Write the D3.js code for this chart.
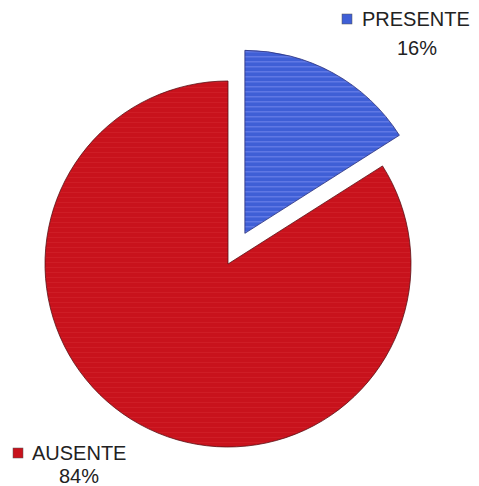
<!DOCTYPE html>
<html>
<head>
<meta charset="utf-8">
<script src="https://cdn.jsdelivr.net/npm/d3@7"></script>
<style>
  body { margin: 0; background: #fff; }
  text { font-family: "Liberation Sans", Arial, sans-serif; fill: #222; }
</style>
</head>
<body>
<div id="chart"></div>
<script>
// Data
var labels = ["PRESENTE", "AUSENTE"];
var values = [16, 84];
var colors = ["#3f5fd6", "#c8121c"];

var svgWidth = 479;
var svgHeight = 486;
var cx = 228, cy = 264;
var radius = 183;
var explode = 35;

var svg = d3.select("#chart")
    .append("svg")
    .attr("width", svgWidth)
    .attr("height", svgHeight);

// stripe patterns (the scan shows fine horizontal banding)
var defs = svg.append("defs");
var stripeColors = ["#7c8ff0", "#d8303a"];
colors.forEach(function (c, i) {
    var p = defs.append("pattern")
        .attr("id", "stripe" + i)
        .attr("patternUnits", "userSpaceOnUse")
        .attr("width", 6)
        .attr("height", 5);
    p.append("rect").attr("width", 6).attr("height", 5).attr("fill", c);
    p.append("rect").attr("y", 3).attr("width", 6).attr("height", 1)
        .attr("fill", stripeColors[i]).attr("opacity", i === 0 ? 0.8 : 0.35);
});

var pie = d3.pie().sort(null).value(d => d);
var arcs = pie(values);
var arc = d3.arc().innerRadius(0).outerRadius(radius);

var g = svg.append("g")
    .attr("transform", `translate(${cx}, ${cy})`);

g.selectAll("path")
    .data(arcs)
    .enter()
    .append("path")
    .attr("transform", function (d, i) {
        if (i !== 0) return null;
        var a = (d.startAngle + d.endAngle) / 2;
        return `translate(${Math.sin(a) * explode}, ${-Math.cos(a) * explode})`;
    })
    .attr("d", arc)
    .attr("fill", (d, i) => `url(#stripe${i})`)
    .attr("stroke", (d, i) => i === 0 ? "#2a2f7a" : "#5a1015")
    .attr("stroke-width", 0.8);

// labels
var labelPos = [
    { x: 342, y: 14, tx: 362, ty: 26, cx: 417, py: 55 },
    { x: 13, y: 448, tx: 32, ty: 460, cx: 79, py: 483 }
];
labelPos.forEach(function (p, i) {
    svg.append("rect")
        .attr("x", p.x)
        .attr("y", p.y)
        .attr("width", 10)
        .attr("height", 10)
        .attr("fill", colors[i])
        .attr("stroke", "#555")
        .attr("stroke-width", 0.5);
    svg.append("text")
        .attr("x", p.tx)
        .attr("y", p.ty)
        .attr("font-size", 20)
        .text(labels[i]);
    svg.append("text")
        .attr("x", p.cx)
        .attr("y", p.py)
        .attr("text-anchor", "middle")
        .attr("font-size", 20)
        .text(values[i] + "%");
});
</script>
</body>
</html>
